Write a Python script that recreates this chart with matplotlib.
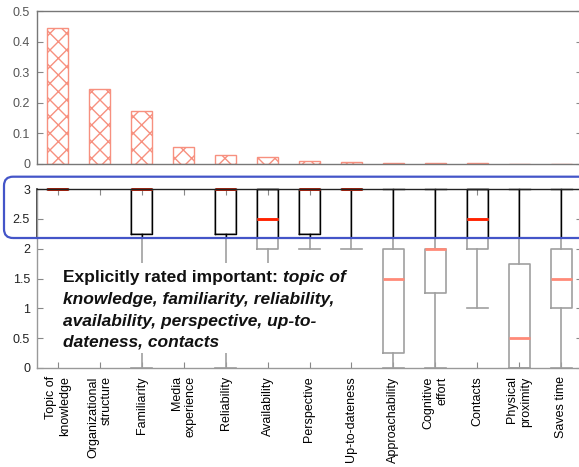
import numpy as np
import matplotlib
matplotlib.use('Agg')
import matplotlib.pyplot as plt
from matplotlib.patches import FancyBboxPatch, Rectangle

plt.rcParams['font.family'] = ['Liberation Sans', 'DejaVu Sans']
plt.rcParams['hatch.linewidth'] = 1.0

categories = ['Topic of\nknowledge', 'Organizational\nstructure', 'Familiarity',
              'Media\nexperience', 'Reliability', 'Availability', 'Perspective',
              'Up-to-dateness', 'Approachability', 'Cognitive\neffort', 'Contacts',
              'Physical\nproximity', 'Saves time']

# share of mentions (top panel)
share = [0.445, 0.245, 0.173, 0.056, 0.031, 0.023, 0.010, 0.007,
         0.0035, 0.0033, 0.0033, 0.0012, 0.0012]

# explicit importance ratings (bottom panel), None = not rated
rating_min = [3, None, 0, None, 0, 1, 2, 2, 0, 0, 1, 0, 0]
rating_q1 = [3, None, 2.25, None, 2.25, 2, 2.25, 3, 0.25, 1.25, 2, 0, 1]
rating_med = [3, None, 3, None, 3, 2.5, 3, 3, 1.5, 2, 2.5, 0.5, 1.5]
rating_q3 = [3, None, 3, None, 3, 3, 3, 3, 2, 2, 3, 1.75, 2]
rating_max = [3, None, 3, None, 3, 3, 3, 3, 3, 3, 3, 3, 3]

band_lo = 2.18  # lower edge of the highlighted rating band

W, H = 579, 467
fig = plt.figure(figsize=(W / 100, H / 100), dpi=100)
ax1 = fig.add_axes([37 / W, 1 - 164 / H, 545 / W, 153 / H])
ax2 = fig.add_axes([37 / W, 1 - 368 / H, 545 / W, 179 / H])

x = np.arange(len(categories))

# --- top: bar chart ---
ax1.bar(x, share, width=0.5, color='white', edgecolor='#f7907f', hatch='xx', linewidth=1.0)
ax1.set_xlim(-0.5, 12.5)
ax1.set_ylim(0, 0.5)
ax1.set_xticks([])
yt = np.arange(0, 0.51, 0.1)
ax1.set_yticks(yt)
ax1.set_yticklabels(['0'] + ['%.1f' % v for v in yt[1:]])
ax1.tick_params(axis='y', direction='in', left=True, right=True, length=4, width=0.8,
                color='#888888', labelcolor='#555555', labelsize=9, pad=5)
for s in ax1.spines.values():
    s.set_color('#777777')
    s.set_linewidth(1.0)

# --- bottom: box plots ---
stats, pos = [], []
for i in range(len(categories)):
    if rating_med[i] is None:
        continue
    stats.append(dict(med=rating_med[i], q1=rating_q1[i], q3=rating_q3[i],
                      whislo=rating_min[i], whishi=rating_max[i], fliers=[]))
    pos.append(i)

faded = dict(widths=0.5, capwidths=0.5, showfliers=False, manage_ticks=False,
             boxprops=dict(color='#a0a0a0', linewidth=1.2),
             whiskerprops=dict(color='#a0a0a0', linewidth=1.2),
             capprops=dict(color='#a0a0a0', linewidth=1.2),
             medianprops=dict(color='#ff8a78', linewidth=2))
ax2.bxp(stats, positions=pos, **faded)

strong = dict(widths=0.5, capwidths=0.5, showfliers=False, manage_ticks=False,
              boxprops=dict(color='black', linewidth=1.0),
              whiskerprops=dict(color='black', linewidth=1.0),
              capprops=dict(color='black', linewidth=1.0),
              medianprops=dict(color='#ff2200', linewidth=2))
art = ax2.bxp(stats, positions=pos, **strong)
band = Rectangle((-0.5, band_lo), 13, 1.0, transform=ax2.transData)
for lst in art.values():
    for a in lst:
        a.set_clip_path(band)
# medians sitting on the top edge look darker in the original
for m, med in zip(art['medians'], [s['med'] for s in stats]):
    if med == 3:
        m.set_color('#b01800')

ax2.set_xlim(-0.5, 12.5)
ax2.set_ylim(0, 3)
ax2.set_yticks(np.arange(0, 3.01, 0.5))
ax2.set_yticklabels(['0', '0.5', '1', '1.5', '2', '2.5', '3'])
ax2.tick_params(axis='y', direction='in', left=True, right=True, length=4, width=0.8,
                color='#888888', labelcolor='#222222', labelsize=9, pad=5)
ax2.set_xticks(x)
ax2.set_xticklabels(categories, rotation=90, ha='center', va='top', multialignment='right')
ax2.tick_params(axis='x', direction='in', top=True, bottom=True, length=4, width=0.8,
                color='#888888', labelsize=9, pad=6)
for s in ax2.spines.values():
    s.set_color('#999999')
    s.set_linewidth(1.0)
ax2.spines['top'].set_color('#222222')
ax2.axvline(-0.5, ymin=band_lo / 3, ymax=1, color='#222222', lw=1.2, clip_on=False)

# white panel behind the note
ax2.add_patch(Rectangle((-0.07, 0.25), 7.0, 1.51, facecolor='white', edgecolor='none', zorder=3))

fs = 12.5
t = ax2.text(0.12, 1.44, 'Explicitly rated important: ', fontsize=fs, weight='bold',
             va='baseline', color='#111111', zorder=4)
ax2.annotate('topic of', xycoords=t, xy=(1, 0), va='bottom', fontsize=fs, weight='bold',
             style='italic', color='#111111', zorder=4)
note_lines = ['knowledge, familiarity, reliability,',
              'availability, perspective, up-to-',
              'dateness, contacts']
for yy, line in zip([1.073, 0.712, 0.352], note_lines):
    ax2.text(0.12, yy, line, fontsize=fs, weight='bold', style='italic',
             va='baseline', color='#111111', zorder=4)

# blue highlight frame
frame = FancyBboxPatch((0.04, (H - 238) / 100), 6.0, 0.613,
                       boxstyle='round,pad=0,rounding_size=0.09',
                       transform=fig.dpi_scale_trans, fill=False,
                       edgecolor='#4455c8', linewidth=1.6, zorder=10)
fig.add_artist(frame)

fig.savefig('out.png', dpi=100)
